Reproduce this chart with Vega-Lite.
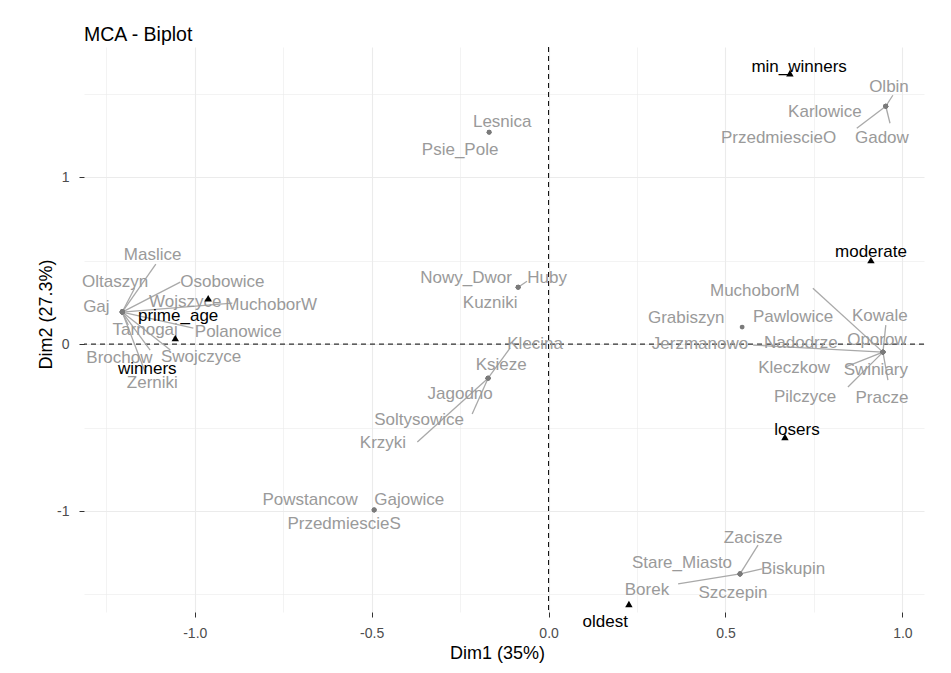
{
  "$schema": "https://vega.github.io/schema/vega-lite/v6.json",
  "width": 840,
  "height": 565,
  "autosize": {"type": "none"},
  "padding": {"left": 84, "top": 47, "right": 27, "bottom": 61},
  "background": "white",
  "title": {"text": "MCA - Biplot", "anchor": "start", "frame": "group", "fontSize": 19.5, "fontWeight": "normal", "color": "black", "font": "Liberation Sans", "offset": 1},
  "config": {
    "view": {"stroke": null},
    "font": "Liberation Sans",
    "axis": {
      "domain": false,
      "grid": true,
      "gridColor": "#ebebeb",
      "tickSize": 5,
      "tickWidth": 1,
      "labelFontSize": 14,
      "labelColor": "#4d4d4d",
      "labelFont": "Liberation Sans",
      "labelOverlap": false,
      "labelFlush": false,
      "titleFont": "Liberation Sans",
      "titleFontSize": 18,
      "titleFontWeight": "normal",
      "titleColor": "black"
    },
    "axisX": {"labelPadding": 9, "titlePadding": 4, "titleX": 413},
    "axisY": {"labelPadding": 10, "titlePadding": 1, "titleY": 267}
  },
  "datasets": {
    "zero": [{"v": 0}],
    "ind": [
      {"name": "Maslice", "x": -1.205, "y": 0.192, "lx": -1.119, "ly": 0.533, "sx": -1.110, "sy": 0.479},
      {"name": "Oltaszyn", "x": -1.205, "y": 0.192, "lx": -1.225, "ly": 0.371, "sx": -1.170, "sy": 0.335},
      {"name": "Osobowice", "x": -1.205, "y": 0.192, "lx": -0.922, "ly": 0.371, "sx": -1.041, "sy": 0.371},
      {"name": "Gaj", "x": -1.205, "y": 0.192, "lx": -1.278, "ly": 0.222},
      {"name": "Wojszyce", "x": -1.205, "y": 0.192, "lx": -1.027, "ly": 0.251},
      {"name": "MuchoborW", "x": -1.205, "y": 0.192, "lx": -0.784, "ly": 0.234, "sx": -0.894, "sy": 0.246},
      {"name": "Tarnogaj", "x": -1.205, "y": 0.192, "lx": -1.140, "ly": 0.084, "sx": -1.188, "sy": 0.114},
      {"name": "Polanowice", "x": -1.205, "y": 0.192, "lx": -0.877, "ly": 0.072, "sx": -1.004, "sy": 0.096},
      {"name": "Brochow", "x": -1.205, "y": 0.192, "lx": -1.213, "ly": -0.084, "sx": -1.126, "sy": -0.036},
      {"name": "Swojczyce", "x": -1.205, "y": 0.192, "lx": -0.982, "ly": -0.078, "sx": -1.069, "sy": -0.036},
      {"name": "Zerniki", "x": -1.205, "y": 0.192, "lx": -1.120, "ly": -0.234, "sx": -1.140, "sy": -0.168},
      {"name": "Nowy_Dwor", "x": -0.086, "y": 0.341, "lx": -0.233, "ly": 0.395},
      {"name": "Huby", "x": -0.086, "y": 0.341, "lx": -0.004, "ly": 0.395, "sx": -0.061, "sy": 0.377},
      {"name": "Kuzniki", "x": -0.086, "y": 0.341, "lx": -0.165, "ly": 0.246},
      {"name": "Klecina", "x": -0.171, "y": -0.204, "lx": -0.038, "ly": 0.0, "sx": -0.109, "sy": -0.024},
      {"name": "Ksieze", "x": -0.171, "y": -0.204, "lx": -0.134, "ly": -0.126},
      {"name": "Jagodno", "x": -0.171, "y": -0.204, "lx": -0.250, "ly": -0.299},
      {"name": "Soltysowice", "x": -0.171, "y": -0.204, "lx": -0.366, "ly": -0.455, "sx": -0.216, "sy": -0.419},
      {"name": "Krzyki", "x": -0.171, "y": -0.204, "lx": -0.468, "ly": -0.593, "sx": -0.371, "sy": -0.587},
      {"name": "Lesnica", "x": -0.168, "y": 1.269, "lx": -0.131, "ly": 1.329},
      {"name": "Psie_Pole", "x": -0.168, "y": 1.269, "lx": -0.250, "ly": 1.162},
      {"name": "Powstancow", "x": -0.493, "y": -0.994, "lx": -0.674, "ly": -0.934},
      {"name": "Gajowice", "x": -0.493, "y": -0.994, "lx": -0.394, "ly": -0.934},
      {"name": "PrzedmiescieS", "x": -0.493, "y": -0.994, "lx": -0.578, "ly": -1.078},
      {"name": "Grabiszyn", "x": 0.547, "y": 0.102, "lx": 0.389, "ly": 0.156},
      {"name": "MuchoborM", "x": 0.945, "y": -0.048, "lx": 0.583, "ly": 0.317, "sx": 0.747, "sy": 0.335},
      {"name": "Pawlowice", "x": 0.945, "y": -0.048, "lx": 0.691, "ly": 0.162},
      {"name": "Kowale", "x": 0.945, "y": -0.048, "lx": 0.936, "ly": 0.168, "sx": 0.953, "sy": 0.114},
      {"name": "Jerzmanowo", "x": 0.945, "y": -0.048, "lx": 0.428, "ly": 0.0, "sx": 0.578, "sy": -0.006},
      {"name": "Nadodrze", "x": 0.945, "y": -0.048, "lx": 0.713, "ly": 0.006},
      {"name": "Oporow", "x": 0.945, "y": -0.048, "lx": 0.928, "ly": 0.024},
      {"name": "Kleczkow", "x": 0.945, "y": -0.048, "lx": 0.694, "ly": -0.144, "sx": 0.838, "sy": -0.138},
      {"name": "Swiniary", "x": 0.945, "y": -0.048, "lx": 0.925, "ly": -0.156},
      {"name": "Pilczyce", "x": 0.945, "y": -0.048, "lx": 0.725, "ly": -0.317, "sx": 0.846, "sy": -0.257},
      {"name": "Pracze", "x": 0.945, "y": -0.048, "lx": 0.942, "ly": -0.323, "sx": 0.959, "sy": -0.216},
      {"name": "Olbin", "x": 0.953, "y": 1.425, "lx": 0.962, "ly": 1.539, "sx": 0.973, "sy": 1.491},
      {"name": "Karlowice", "x": 0.953, "y": 1.425, "lx": 0.781, "ly": 1.389},
      {"name": "PrzedmiescieO", "x": 0.953, "y": 1.425, "lx": 0.650, "ly": 1.234, "sx": 0.871, "sy": 1.293},
      {"name": "Gadow", "x": 0.953, "y": 1.425, "lx": 0.942, "ly": 1.234, "sx": 0.965, "sy": 1.323},
      {"name": "Zacisze", "x": 0.541, "y": -1.377, "lx": 0.578, "ly": -1.162, "sx": 0.592, "sy": -1.204},
      {"name": "Stare_Miasto", "x": 0.541, "y": -1.377, "lx": 0.377, "ly": -1.311},
      {"name": "Biskupin", "x": 0.541, "y": -1.377, "lx": 0.691, "ly": -1.347, "sx": 0.603, "sy": -1.347},
      {"name": "Borek", "x": 0.541, "y": -1.377, "lx": 0.278, "ly": -1.473, "sx": 0.366, "sy": -1.437},
      {"name": "Szczepin", "x": 0.541, "y": -1.377, "lx": 0.521, "ly": -1.491}
    ],
    "var": [
      {"name": "min_winners", "x": 0.682, "y": 1.623, "lx": 0.708, "ly": 1.659},
      {"name": "moderate", "x": 0.911, "y": 0.503, "lx": 0.911, "ly": 0.551},
      {"name": "losers", "x": 0.668, "y": -0.557, "lx": 0.702, "ly": -0.515},
      {"name": "oldest", "x": 0.227, "y": -1.557, "lx": 0.160, "ly": -1.665},
      {"name": "prime_age", "x": -0.962, "y": 0.275, "lx": -1.047, "ly": 0.168},
      {"name": "winners", "x": -1.055, "y": 0.036, "lx": -1.134, "ly": -0.150}
    ]
  },
  "layer": [
    {
      "data": {"name": "zero"},
      "mark": {"type": "rule", "color": "black", "strokeWidth": 1, "strokeDash": [5, 4]},
      "encoding": {
        "x": {
          "field": "v", "type": "quantitative", "title": "Dim1 (35%)",
          "scale": {"domain": [-1.313, 1.061], "nice": false, "zero": false},
          "axis": {
            "values": [-1.25, -1, -0.75, -0.5, -0.25, 0, 0.25, 0.5, 0.75, 1],
            "labelExpr": "datum.value % 0.5 === 0 ? (datum.value < 0 ? '-' + format(-datum.value, '.1f') : format(datum.value, '.1f')) : ''",
            "gridWidth": {"condition": {"test": "datum.value % 0.5 !== 0", "value": 0.6}, "value": 1.1},
            "tickColor": {"condition": {"test": "datum.value % 0.5 !== 0", "value": "transparent"}, "value": "#333333"}
          }
        }
      }
    },
    {
      "data": {"name": "zero"},
      "mark": {"type": "rule", "color": "black", "strokeWidth": 1, "strokeDash": [5, 4]},
      "encoding": {
        "y": {
          "field": "v", "type": "quantitative", "title": "Dim2 (27.3%)",
          "scale": {"domain": [-1.605, 1.78], "nice": false, "zero": false},
          "axis": {
            "values": [-1.5, -1, -0.5, 0, 0.5, 1, 1.5],
            "labelExpr": "datum.value % 1 === 0 ? (datum.value < 0 ? '-' + format(-datum.value, 'd') : format(datum.value, 'd')) : ''",
            "gridWidth": {"condition": {"test": "datum.value % 1 !== 0", "value": 0.6}, "value": 1.1},
            "tickColor": {"condition": {"test": "datum.value % 1 !== 0", "value": "transparent"}, "value": "#333333"}
          }
        }
      }
    },
    {
      "data": {"name": "ind"},
      "transform": [{"filter": "isValid(datum.sx)"}],
      "mark": {"type": "rule", "color": "#a9a9a9", "strokeWidth": 1.3},
      "encoding": {
        "x": {"field": "x", "type": "quantitative", "title": "Dim1 (35%)", "scale": {"domain": [-1.313, 1.061], "nice": false, "zero": false}},
        "y": {"field": "y", "type": "quantitative", "title": "Dim2 (27.3%)", "scale": {"domain": [-1.605, 1.78], "nice": false, "zero": false}},
        "x2": {"field": "sx"},
        "y2": {"field": "sy"}
      }
    },
    {
      "data": {"name": "ind"},
      "mark": {"type": "point", "shape": "circle", "filled": true, "size": 24, "color": "#7a7a7a", "opacity": 1},
      "encoding": {
        "x": {"field": "x", "type": "quantitative", "title": "Dim1 (35%)", "scale": {"domain": [-1.313, 1.061], "nice": false, "zero": false}},
        "y": {"field": "y", "type": "quantitative", "title": "Dim2 (27.3%)", "scale": {"domain": [-1.605, 1.78], "nice": false, "zero": false}}
      }
    },
    {
      "data": {"name": "ind"},
      "mark": {"type": "text", "fontSize": 17, "color": "#9a9a9a", "font": "Liberation Sans", "align": "center", "baseline": "middle"},
      "encoding": {
        "x": {"field": "lx", "type": "quantitative", "title": "Dim1 (35%)", "scale": {"domain": [-1.313, 1.061], "nice": false, "zero": false}},
        "y": {"field": "ly", "type": "quantitative", "title": "Dim2 (27.3%)", "scale": {"domain": [-1.605, 1.78], "nice": false, "zero": false}},
        "text": {"field": "name"}
      }
    },
    {
      "data": {"name": "var"},
      "mark": {"type": "point", "shape": "triangle-up", "filled": true, "size": 55, "color": "black", "opacity": 1},
      "encoding": {
        "x": {"field": "x", "type": "quantitative", "title": "Dim1 (35%)", "scale": {"domain": [-1.313, 1.061], "nice": false, "zero": false}},
        "y": {"field": "y", "type": "quantitative", "title": "Dim2 (27.3%)", "scale": {"domain": [-1.605, 1.78], "nice": false, "zero": false}}
      }
    },
    {
      "data": {"name": "var"},
      "mark": {"type": "text", "fontSize": 17, "color": "black", "font": "Liberation Sans", "align": "center", "baseline": "middle"},
      "encoding": {
        "x": {"field": "lx", "type": "quantitative", "title": "Dim1 (35%)", "scale": {"domain": [-1.313, 1.061], "nice": false, "zero": false}},
        "y": {"field": "ly", "type": "quantitative", "title": "Dim2 (27.3%)", "scale": {"domain": [-1.605, 1.78], "nice": false, "zero": false}},
        "text": {"field": "name"}
      }
    }
  ]
}
